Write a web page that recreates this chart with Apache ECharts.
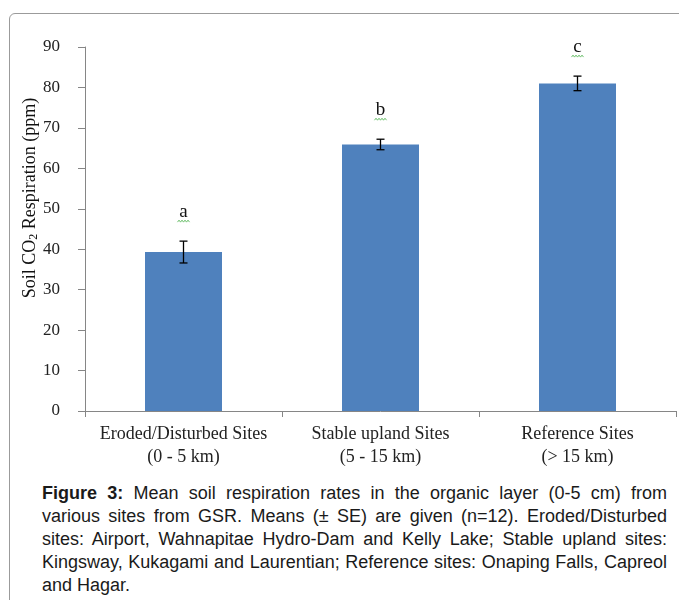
<!DOCTYPE html>
<html>
<head>
<meta charset="utf-8">
<script src="https://cdn.jsdelivr.net/npm/echarts@6/dist/echarts.min.js"></script>
<style>
  html, body { margin: 0; padding: 0; background: #fff; width: 679px; height: 600px; overflow: hidden; }
  #frame { position: absolute; left: 9px; top: 13px; width: 720px; height: 640px; border: 1px solid #9b9b9b; border-radius: 6px; }
  #chart { position: absolute; left: 0; top: 0; width: 679px; height: 478px; }
  #caption { position: absolute; left: 42px; top: 482px; width: 625px; font-family: "Liberation Sans", Arial, sans-serif; font-size: 18px; line-height: 23px; color: #1a1a1a; }
  #caption .l { text-align: justify; text-align-last: justify; white-space: nowrap; }
</style>
</head>
<body>
<div id="frame"></div>
<div id="chart"></div>
<div id="caption">
  <div class="l"><b>Figure 3:</b> Mean soil respiration rates in the organic layer (0-5 cm) from</div>
  <div class="l">various sites from GSR. Means (± SE) are given (n=12). Eroded/Disturbed</div>
  <div class="l">sites: Airport, Wahnapitae Hydro-Dam and Kelly Lake; Stable upland sites:</div>
  <div class="l">Kingsway, Kukagami and Laurentian; Reference sites: Onaping Falls, Capreol</div>
  <div>and Hagar.</div>
</div>
<script>
const categories = [
  "Eroded/Disturbed Sites\n(0 - 5 km)",
  "Stable upland Sites\n(5 - 15 km)",
  "Reference Sites\n(> 15 km)"
];
const means = [39.3, 65.9, 81.0];
const errors = [2.7, 1.3, 1.8];
const letters = ["a", "b", "c"];

const serif = "'Liberation Serif', 'Times New Roman', serif";
const axisGray = "#868686";

const errData = means.map((m, i) => [i, m, errors[i]]);

function renderError(params, api) {
  const i = api.value(0);
  const m = api.value(1);
  const e = api.value(2);
  const top = api.coord([i, m + e]);
  const bot = api.coord([i, m - e]);
  const x = top[0];
  const cap = 4;
  const st = { stroke: "#000", lineWidth: 1.3 };
  // green spell-check squiggle under the letter
  const sy = top[1] - 20;
  const pts = [];
  for (let k = 0; k <= 8; k++) {
    pts.push([x - 6 + k * 1.5, sy + (k % 2 ? -1 : 1)]);
  }
  return {
    type: "group",
    children: [
      { type: "line", shape: { x1: x, y1: top[1], x2: x, y2: bot[1] }, style: st },
      { type: "line", shape: { x1: x - cap, y1: top[1], x2: x + cap, y2: top[1] }, style: st },
      { type: "line", shape: { x1: x - cap, y1: bot[1], x2: x + cap, y2: bot[1] }, style: st },
      {
        type: "text",
        x: x, y: top[1] - 29,
        style: { text: letters[params.dataIndex], font: "19px " + serif, fill: "#111", align: "center", verticalAlign: "middle" }
      },
      { type: "polyline", shape: { points: pts }, style: { stroke: "#6cbf6c", lineWidth: 1, fill: null } }
    ]
  };
}

const chart = echarts.init(document.getElementById("chart"));
chart.setOption({
  animation: false,
  grid: { left: 85, right: 3, top: 47, bottom: 67, containLabel: false },
  xAxis: {
    type: "category",
    data: categories,
    axisLine: { lineStyle: { color: axisGray } },
    axisTick: { show: true, length: 6, lineStyle: { color: axisGray } },
    axisLabel: { color: "#222", fontFamily: serif, fontSize: 18, lineHeight: 23, margin: 12, interval: 0 }
  },
  yAxis: {
    type: "value",
    min: 0, max: 90, interval: 10,
    name: "Soil CO{sub|2} Respiration (ppm)",
    nameLocation: "middle",
    nameGap: 45,
    nameMoveOverlap: false,
    nameTextStyle: {
      color: "#111", fontFamily: serif, fontSize: 18,
      padding: [0, 0, 0, 62],
      rich: { sub: { fontFamily: serif, fontSize: 12, padding: [8, 0, 0, 0] } }
    },
    axisLine: { show: true, lineStyle: { color: axisGray } },
    axisTick: { show: true, inside: false, length: 7, lineStyle: { color: axisGray } },
    axisLabel: { color: "#222", fontFamily: serif, fontSize: 17, margin: 25 },
    splitLine: { show: false }
  },
  series: [
    {
      type: "bar",
      data: means,
      barWidth: 77,
      itemStyle: { color: "#4f81bd" }
    },
    {
      type: "custom",
      data: errData,
      renderItem: renderError,
      z: 5
    }
  ]
});
</script>
</body>
</html>
